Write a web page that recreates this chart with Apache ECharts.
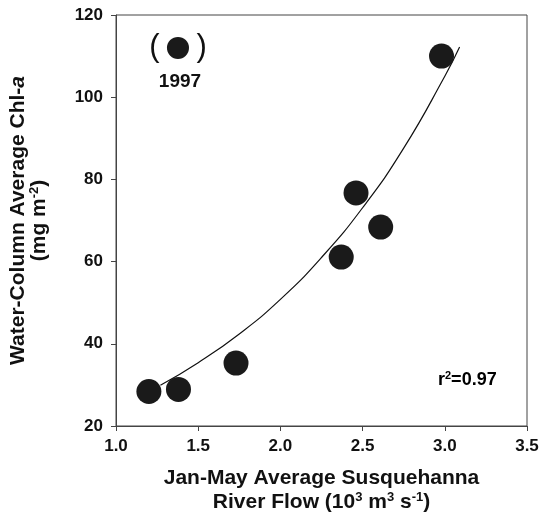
<!DOCTYPE html>
<html><head><meta charset="utf-8">
<script src="https://cdn.jsdelivr.net/npm/echarts@6/dist/echarts.min.js"></script>
<style>html,body{margin:0;padding:0;background:#fff}#c{width:547px;height:515px}</style>
</head><body><div id="c"></div>
<script>
// River flow (10^3 m3 s-1) and chl-a (mg m-2)
const flowX = [1.20, 1.38, 1.73, 2.37, 2.46, 2.61, 2.98];
const chlY = [28.4, 28.9, 35.3, 61.1, 76.7, 68.4, 110.0];
// Excluded 1997 point
const year1997X = 1.377;
const year1997Y = 112.0;
// Fitted curve, points
const fitX = [1.27, 1.5, 1.75, 2.0, 2.25, 2.5, 2.75, 3.0, 3.09];
const fitY = [29.9, 35.4, 42.4, 50.8, 61.0, 73.1, 87.6, 105.1, 112.2];
const xTicks = [1.0, 1.5, 2.0, 2.5, 3.0, 3.5];
const yTicks = [20, 40, 60, 80, 100, 120];

const FONT = 'Liberation Sans, Arial, sans-serif';
const chart = echarts.init(document.getElementById('c'), null, {renderer: 'canvas'});
const sup = {fontSize: 13, fontWeight: 'bold', fontFamily: FONT, color: '#111', padding: [0, 0, 10, 0]};
const t = {fontSize: 21, fontWeight: 'bold', fontFamily: FONT, color: '#111'};
const rt = {fontSize: 18, fontWeight: 'bold', fontFamily: FONT, color: '#111'};
const rsup = {fontSize: 11, fontWeight: 'bold', fontFamily: FONT, color: '#111', padding: [0, 0, 9, 0]};
chart.setOption({
  animation: false,
  grid: {left: 116, right: 20, top: 15, bottom: 89, show: true, borderColor: '#444', borderWidth: 1,
    containLabel: false, outerBoundsMode: 'none'},
  xAxis: {
    type: 'value', min: xTicks[0], max: xTicks[xTicks.length - 1], interval: 0.5,
    axisLine: {lineStyle: {color: '#444', width: 1}},
    axisTick: {show: true, length: 5, lineStyle: {color: '#444'}},
    splitLine: {show: false},
    axisLabel: {color: '#111', fontSize: 17, fontWeight: 'bold', fontFamily: FONT, margin: 12,
      formatter: v => v.toFixed(1)},
    name: '{t|Jan-May Average Susquehanna}\n{t|River Flow (10}{s|3}{t| m}{s|3}{t| s}{s|-1}{t|)}',
    nameLocation: 'middle', nameGap: 40,
    nameTextStyle: {lineHeight: 24, rich: {t: t, s: sup}}
  },
  yAxis: {
    type: 'value', min: yTicks[0], max: yTicks[yTicks.length - 1], interval: 20,
    axisLine: {show: true, lineStyle: {color: '#444', width: 1}},
    axisTick: {show: true, length: 5, lineStyle: {color: '#444'}},
    splitLine: {show: false},
    axisLabel: {color: '#111', fontSize: 17, fontWeight: 'bold', fontFamily: FONT, margin: 13},
    name: '{t|Water-Column Average Chl-}{i|a}\n{t|(mg m}{s|-2}{t|)}',
    nameLocation: 'middle', nameGap: 66, nameRotate: 90,
    nameTextStyle: {lineHeight: 21, rich: {t: t, i: Object.assign({}, t, {fontStyle: 'italic'}), s: sup}}
  },
  series: [
    {
      type: 'line', data: fitX.map((x, i) => [x, fitY[i]]), smooth: true, symbol: 'none',
      lineStyle: {color: '#111', width: 1.2}, z: 1
    },
    {
      type: 'scatter', data: flowX.map((x, i) => [x, chlY[i]]), symbol: 'circle', symbolSize: 25,
      itemStyle: {color: '#1a1a1a', opacity: 1}, z: 2
    },
    {
      type: 'scatter', symbol: 'circle', symbolSize: 22, itemStyle: {color: '#1a1a1a', opacity: 1}, z: 2,
      data: [
        {value: [year1997X, year1997Y], label: {show: true, position: 'inside', formatter: '{p|(}{g|}{p|)}',
          rich: {p: {fontSize: 31, fontFamily: 'Liberation Sans, Arial', color: '#111', fontWeight: 'normal'}, g: {width: 37}}}},
        {value: [year1997X, year1997Y], symbolSize: 0, label: {show: true, position: 'inside', offset: [2, 34],
          formatter: '1997', fontSize: 19, fontWeight: 'bold', fontFamily: FONT, color: '#111'}}
      ]
    }
  ],
  graphic: [{
    type: 'text', left: 438, top: 370,
    style: {text: '{t|r}{s|2}{t|=0.97}', rich: {t: rt, s: rsup}}
  }]
});
</script></body></html>
